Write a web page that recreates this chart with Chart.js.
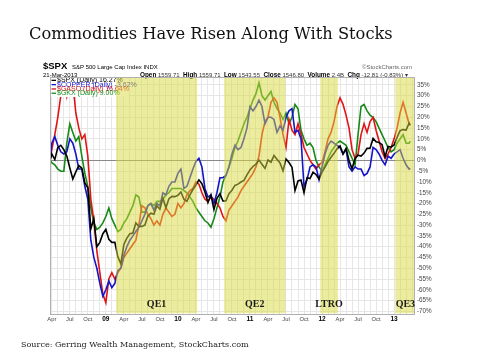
<!DOCTYPE html>
<html>
<head>
<meta charset="utf-8">
<script src="https://cdn.jsdelivr.net/npm/chart.js@4.4.1/dist/chart.umd.min.js"></script>
<style>
  html, body { margin: 0; padding: 0; background: #fff; }
  #wrap { width: 480px; height: 360px; }
</style>
</head>
<body>
<div id="wrap"><canvas id="chart" width="480" height="360"></canvas></div>
<script>
// x = months counted from 1 Jan 2008 (12 = Jan 2009 ...), half-month steps
const months = [
  2.7, 3, 3.5, 4, 4.5, 5, 5.5, 6, 6.5, 7, 7.5, 8, 8.5, 9, 9.5, 10, 10.5, 11, 11.5,
  12, 12.5, 13, 13.5, 14, 14.5, 15, 15.5, 16, 16.5, 17, 17.5, 18, 18.5, 19, 19.5, 20, 20.5, 21, 21.5, 22, 22.5, 23, 23.5,
  24, 24.5, 25, 25.5, 26, 26.5, 27, 27.5, 28, 28.5, 29, 29.5, 30, 30.5, 31, 31.5, 32, 32.5, 33, 33.5, 34, 34.5, 35, 35.5,
  36, 36.5, 37, 37.5, 38, 38.5, 39, 39.5, 40, 40.5, 41, 41.5, 42, 42.5, 43, 43.5, 44, 44.5, 45, 45.5, 46, 46.5, 47, 47.5,
  48, 48.5, 49, 49.5, 50, 50.5, 51, 51.5, 52, 52.5, 53, 53.5, 54, 54.5, 55, 55.5, 56, 56.5, 57, 57.5, 58, 58.5, 59, 59.5,
  60, 60.5, 61, 61.5, 62, 62.5, 62.7
];

// % change since 21-Mar-2008
const spx = [
  0, 3, 0.4, 6, 7, 5, 2, -3.5, -8.6, -5.3, -2.4, -3.6, -10.4, -12.7, -31.8, -27, -40, -38, -34,
  -32, -36.6, -38, -38, -44.7, -48, -39, -36, -34, -33.7, -29, -30.6, -30.6, -30, -25.8, -24.5, -25, -21, -22.6, -17.6, -22, -17.8, -16.7, -16.8,
  -16.2, -14.6, -18, -19, -16, -13.5, -11.4, -9, -10.8, -14.6, -19.5, -16, -22.8, -17.6, -15.4, -18.8, -18.8, -15.4, -13.8, -11.6, -11, -10, -9.3, -6.7,
  -4.4, -2.8, -1.7, 0.2, -1.8, -3.7, 0.2, -0.8, 2.3, 0.5, -1.2, -4.8, 0.7, -1, -3.2, -14, -9.5, -9.1, -15, -8, -8.4, -5.5, -6.5, -8.6,
  -5.4, -3.1, -0.5, 1.5, 3.3, 5.4, 6.7, 3, 5.6, 0, -3.9, 0.9, 2.4, 2, 3.4, 5.6, 5.7, 10.2, 8.6, 8.3, 7.3, 1.7, 6.5, 6.2,
  7.2, 10.7, 13.8, 14.3, 14.1, 17.3, 16.27
];
const copper = [
  0, 8, 11, 7, 4, 3, 4, 10, 8, 3, -4, -4, -12, -18, -37, -45, -50, -57, -63,
  -60, -56, -59, -57, -51, -50, -44, -40, -37, -35, -33, -31, -28, -25, -21, -20, -23, -20, -21, -15, -16, -12, -10, -10,
  -6, -4, -13, -12, -8, -4, -0.5, 1, -3, -13, -17, -16, -20, -15, -8, -8, -7, -3, 3, 7, 5, 6, 10, 15,
  25, 23, 25, 28, 25, 17, 20, 20, 19, 13, 16, 14, 20, 23, 24, 13, 14, 10, -12, -9, -3, -2, -3, -9,
  -3, 3, 7, 9, 8, 7, 6, 3, 5, -3, -5, -3, -4, -4, -7, -6, -3, 6, 5, 3, 0, -2, 2, 1,
  3, 4, 5, 1, -2, -4, -3.62
];
const gaso = [
  0, 5, 12, 20, 30, 40, 30, 38, 36, 22, 15, 10, 12, 2, -18, -28, -42, -52, -62,
  -66, -55, -52, -55, -52, -50, -45, -43, -41, -39, -37, -30, -21, -22, -25, -27, -30, -28, -30, -25, -22, -24, -26, -25,
  -20, -22, -20, -16, -14, -13, -10, -11, -15, -18, -19, -17, -18, -20, -22, -26, -28, -23, -21, -19, -17, -14, -12, -10,
  -8, -6, -3, 2, 12, 18, 20, 27, 29, 27, 20, 12, 6, 19, 14, 12, 17, 12, 6, 3, 0, -2, -4, -2,
  -1, 4, 10, 13, 18, 25, 29, 26, 21, 15, 5, 1, 3, 12, 17, 13, 18, 20, 14, 9, 4, 1, 3, 6,
  10, 15, 22, 27, 22, 17, 16.64
];
const gkx = [
  0, -1, -2, -4, -5, -5, 8, 17, 13, 9, 11, 2, -6, -12, -22, -29, -32, -31, -29,
  -26, -22, -27, -30, -33, -32, -29, -27, -24, -21, -16, -17, -24, -24, -21, -20, -21, -19, -19, -18, -16, -15, -13, -13,
  -13, -13, -14, -15, -17, -19, -22, -24, -26, -28, -29, -31, -27, -22, -17, -10, -7, -3, 1, 6, 9, 13, 17, 20,
  24, 28, 31, 36, 30, 28, 30, 32, 27, 24, 22, 19, 22, 17, 20, 26, 24, 14, 10, 7, 8, 6, 0, -3,
  -5, -2, 1, 4, 6, 8, 9, 8, 7, 4, 1, -2, 12, 25, 26, 23, 21, 20, 18, 15, 12, 9, 6, 4,
  5, 8, 10, 12, 8, 8, 9
];

const seriesNames = ['$SPX', '$COPPER', '$GASO', '$GKX'];
const seriesColors = ['#000000', '#1414c8', '#e01414', '#168a16'];

// axis ticks
const yTicks = [35, 30, 25, 20, 15, 10, 5, 0, -5, -10, -15, -20, -25, -30, -35, -40, -45, -50, -55, -60, -65, -70];
const gridMonths = [];
for (let m = 3; m <= 63; m++) gridMonths.push(m);
const labelMonths = [3, 6, 9, 12, 15, 18, 21, 24, 27, 30, 33, 36, 39, 42, 45, 48, 51, 54, 57, 60];
const labelTexts = ['Apr', 'Jul', 'Oct', '09', 'Apr', 'Jul', 'Oct', '10', 'Apr', 'Jul', 'Oct', '11',
                    'Apr', 'Jul', 'Oct', '12', 'Apr', 'Jul', 'Oct', '13'];

// shaded policy periods (months from Jan 2008)
const bandNames = ['QE1', 'QE2', 'LTRO', 'QE3'];
const bandStart = [13.7, 31.7, 47.7, 60.2];
const bandEnd = [27.2, 41.9, 50.65, 63.4];

const SANS = '"Liberation Sans", Arial, sans-serif';
const SERIF = '"DejaVu Serif", Georgia, serif';

function fitText(ctx, txt, weight, family, width) {
  ctx.font = weight + ' 20px ' + family;
  const w = ctx.measureText(txt).width;
  ctx.font = weight + ' ' + (20 * width / w).toFixed(2) + 'px ' + family;
}

const decor = {
  id: 'decor',
  beforeDraw(chart) {
    const c = chart.ctx;
    c.save();
    c.fillStyle = '#fff';
    c.fillRect(0, 0, chart.width, chart.height);

    // title
    c.fillStyle = '#111';
    c.textBaseline = 'alphabetic';
    fitText(c, 'Commodities Have Risen Along With Stocks', 'normal', SERIF, 364);
    c.fillText('Commodities Have Risen Along With Stocks', 29, 39);

    // source
    c.fillStyle = '#222';
    fitText(c, 'Source: Gerring Wealth Management, StockCharts.com', 'normal', SERIF, 228);
    c.fillText('Source: Gerring Wealth Management, StockCharts.com', 21, 347);

    // StockCharts header
    c.fillStyle = '#000';
    c.font = 'bold 9.5px ' + SANS;
    c.fillText('$SPX', 43, 69);
    c.font = '6px ' + SANS;
    c.fillText('S&P 500 Large Cap Index INDX', 72, 68.5);
    c.fillText('21-Mar-2013', 43, 76.5);
    c.fillStyle = '#666';
    c.fillText('\u00A9StockCharts.com', 362, 68.5);

    const parts = [['Open', 1], [' 1559.71  ', 0], ['High', 1], [' 1559.71  ', 0], ['Low', 1], [' 1543.55  ', 0],
                   ['Close', 1], [' 1546.80  ', 0], ['Volume', 1], [' 2.4B  ', 0], ['Chg', 1], [' -12.81 (-0.83%) \u25BE', 0]];
    let x = 140;
    parts.forEach(p => {
      c.font = (p[1] ? 'bold 6.4px ' : '6px ') + SANS;
      c.fillStyle = p[1] ? '#000' : '#333';
      c.fillText(p[0], x, 76.5);
      x += c.measureText(p[0]).width;
    });
    c.restore();
  },
  afterDatasetsDraw(chart) {
    const c = chart.ctx;
    const a = chart.chartArea;
    const xs = chart.scales.x;
    c.save();

    // legend box
    c.fillStyle = '#fff';
    c.fillRect(a.left + 0.5, a.top + 0.5, 78, 19.5);
    const series = [spx, copper, gaso, gkx];
    c.font = '7px ' + SANS;
    c.textBaseline = 'alphabetic';
    series.forEach((s, i) => {
      const y = 82.3 + i * 4.3;
      c.fillStyle = seriesColors[i];
      c.fillRect(51.5, y - 2.6, 4.5, 1.3);
      c.fillText(seriesNames[i] + ' (Daily) ' + s[s.length - 1].toFixed(2) + '%', 57, y);
    });

    // translucent yellow bands
    c.beginPath();
    c.rect(a.left, a.top, a.right - a.left, a.bottom - a.top);
    c.clip();
    c.fillStyle = 'rgba(217, 217, 62, 0.5)';
    bandNames.forEach((n, i) => {
      const x0 = xs.getPixelForValue(bandStart[i]);
      const x1 = xs.getPixelForValue(bandEnd[i]);
      c.fillRect(x0, a.top, x1 - x0, a.bottom - a.top);
    });
    c.restore();

    c.save();
    c.strokeStyle = '#b0b0b0';
    c.lineWidth = 1;
    c.strokeRect(Math.round(a.left) + 0.5, Math.round(a.top) + 0.5,
                 Math.round(a.right - a.left) - 1, Math.round(a.bottom - a.top));
    c.fillStyle = '#1a1a1a';
    c.font = 'bold 10px "Liberation Serif", Georgia, serif';
    c.textAlign = 'center';
    bandNames.forEach((n, i) => {
      const x0 = xs.getPixelForValue(bandStart[i]);
      const x1 = xs.getPixelForValue(Math.min(bandEnd[i], 63.4));
      c.fillText(n, (x0 + x1) / 2 + (i === 3 ? 0.5 : 0), 307);
    });
    c.restore();
  }
};

function pts(arr) {
  return arr.map((v, i) => ({ x: months[i], y: v }));
}

const allSeries = [spx, copper, gaso, gkx];

new Chart(document.getElementById('chart'), {
  type: 'line',
  data: {
    datasets: allSeries.map((s, i) => ({
      label: seriesNames[i],
      data: pts(s),
      borderColor: seriesColors[i],
      backgroundColor: seriesColors[i],
      borderWidth: 1.6,
      pointRadius: 0,
      tension: 0,
      fill: false
    }))
  },
  options: {
    responsive: false,
    animation: false,
    layout: { padding: { left: 50, top: 77, right: 0, bottom: 36.5 } },
    plugins: { legend: { display: false }, tooltip: { enabled: false } },
    scales: {
      x: {
        type: 'linear',
        min: 2.7,
        max: 63.4,
        afterBuildTicks: ax => { ax.ticks = gridMonths.map(v => ({ value: v })); },
        afterFit: ax => { ax.height = 10; },
        border: { display: false },
        grid: { color: '#e6e6e6', drawTicks: false },
        ticks: {
          autoSkip: false,
          maxRotation: 0,
          padding: 2,
          color: ctx => (ctx.tick && ctx.tick.value % 12 === 0) ? '#000' : '#444',
          font: ctx => (ctx.tick && ctx.tick.value % 12 === 0)
            ? { family: SANS, size: 6.5, weight: 'bold' }
            : { family: SANS, size: 5.8 },
          callback: v => {
            const k = labelMonths.indexOf(v);
            return k >= 0 ? labelTexts[k] : '';
          }
        }
      },
      y: {
        position: 'right',
        min: -71,
        max: 38.7,
        afterBuildTicks: ax => { ax.ticks = yTicks.map(v => ({ value: v })); },
        afterFit: ax => { ax.width = 65.5; },
        border: { display: false },
        grid: {
          drawTicks: false,
          color: ctx => (ctx.tick && ctx.tick.value === 0) ? '#8a8a8a' : '#e6e6e6'
        },
        ticks: {
          padding: 2.5,
          color: '#444',
          font: { family: SANS, size: 6.3 },
          callback: v => v + '%'
        }
      }
    }
  },
  plugins: [decor]
});
</script>
</body>
</html>
